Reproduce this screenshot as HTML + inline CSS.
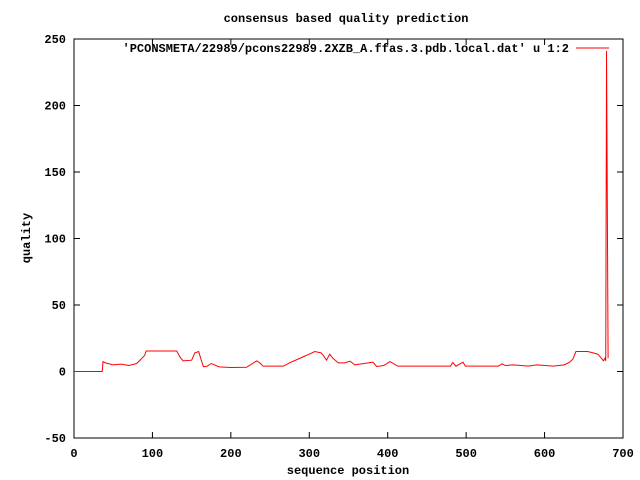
<!DOCTYPE html>
<html><head><meta charset="utf-8"><style>
body{margin:0;background:#fff;}
svg{display:block;font-family:"Liberation Mono",monospace;font-size:12px;font-weight:bold;}
</style></head><body>
<svg id="chart" width="640" height="480" xmlns="http://www.w3.org/2000/svg">
<text x="346" y="22" text-anchor="middle">consensus based quality prediction</text>
<text x="348" y="474" text-anchor="middle">sequence position</text>
<text x="30" y="238" text-anchor="middle" transform="rotate(-90 30 238)">quality</text>
<rect x="74" y="39" width="549" height="399" fill="none" stroke="#000"/>
<g id="axes"></g>
<text x="569" y="52" text-anchor="end">'PCONSMETA/22989/pcons22989.2XZB_A.ffas.3.pdb.local.dat' u 1:2</text>
<line x1="576" y1="48" x2="609" y2="48" stroke="#f00"/>
<polyline id="series" fill="none" stroke="#f00" stroke-width="1"/>
</svg>
<script>
const xTicks=[0,100,200,300,400,500,600,700];
const yTicks=[-50,0,50,100,150,200,250];
const pos=[0,36,37,40,50,60,70,80,85,90,92,131,135,139,150,154,159,162,165,170,175,185,200,220,233,238,241,267,275,292,300,307,315,318,322,326,330,337,345,352,358,370,381,386,395,403,413,480,483,487,496,499,541,546,550,560,579,590,611,625,632,636,640,655,662,668,673,675,677,678,679,680,681];
const qual=[0,0,7.5,6.5,5,5.5,4.5,6,9,12,15.4,15.4,11,8,8.5,14,15,9,3.6,4,6,3.5,3,3.2,8,6,4,4,6.5,11,13,15,14,12,8.5,13,10,6.5,6.5,7.8,5,6,7,3.8,4.5,7.5,4,4,6.8,4,7,4,4,5.8,4.5,5,4,5,4,5,7,9.2,15,15,14,13,9.5,8,10,8,241,125,10];
const X=v=>74+(v/700)*549, Y=v=>371.5-v*1.33;
const g=document.getElementById('axes');const NS='http://www.w3.org/2000/svg';
xTicks.forEach(t=>{const x=X(t);
 const l=document.createElementNS(NS,'path');
 
 
 l.setAttribute('d',`M${x} 438v-6M${x} 39v6`);l.setAttribute('stroke','#000');g.appendChild(l);
 const tx=document.createElementNS(NS,'text');
 
 
 tx.setAttribute('x',x);tx.setAttribute('y',457);tx.setAttribute('text-anchor','middle');tx.textContent=t;g.appendChild(tx);});
yTicks.forEach(t=>{const y=Y(t);
 const l=document.createElementNS(NS,'path');
 
 
 l.setAttribute('d',`M74 ${y}h6M623 ${y}h-6`);l.setAttribute('stroke','#000');g.appendChild(l);
 const tx=document.createElementNS(NS,'text');
 
 
 tx.setAttribute('x',66);tx.setAttribute('y',y+4);tx.setAttribute('text-anchor','end');tx.textContent=t;g.appendChild(tx);});
document.getElementById('series').setAttribute('points',pos.map((p,i)=>X(p)+','+Y(qual[i])).join(' '));
</script>
</body></html>
